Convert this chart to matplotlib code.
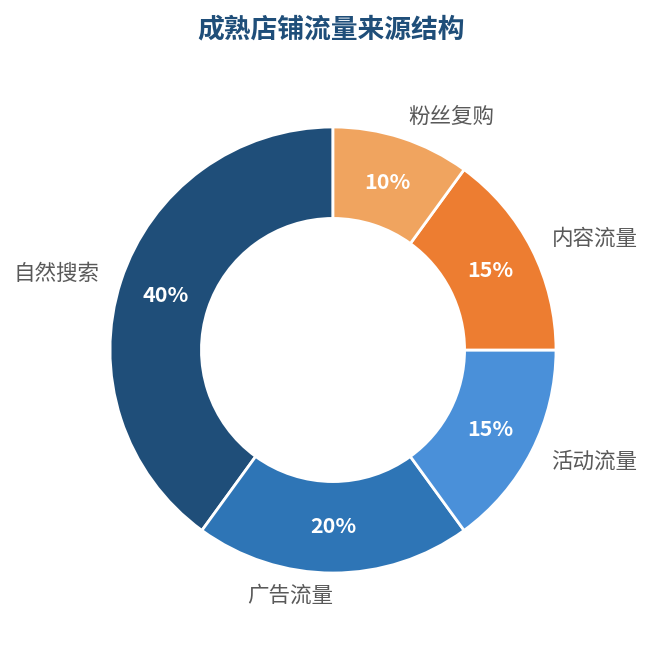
import matplotlib.pyplot as plt

plt.rcParams['font.family'] = ['Noto Sans CJK SC', 'DejaVu Sans']

labels = ['自然搜索', '广告流量', '活动流量', '内容流量', '粉丝复购']
shares = [40, 20, 15, 15, 10]
colors = ['#1F4E79', '#2E75B6', '#4A90D9', '#ED7D31', '#F0A45F']

W, H = 651, 645
fig = plt.figure(figsize=(W / 100, H / 100), dpi=100)

# pie radius ~223 px, axes spans 2.5 radii, centre at (333, 350) from top
r_px = 223
side = 2.5 * r_px
cx, cy = 333, H - 350
ax = fig.add_axes([(cx - side / 2) / W, (cy - side / 2) / H, side / W, side / H])

wedges, texts, autotexts = ax.pie(
    shares, labels=labels, colors=colors, startangle=90,
    autopct='%d%%', pctdistance=0.79, labeldistance=1.1,
    wedgeprops=dict(width=0.41, edgecolor='white', linewidth=2),
    textprops=dict(fontsize=15.5, color='#595959'))

# bottom label sits to the left of the centre line
texts[1].set_ha('right')

for t in autotexts:
    t.set_color('white')
    t.set_fontsize(15.5)
    t.set_fontweight('bold')

fig.text(331 / W, 1 - 29 / H, '成熟店铺流量来源结构', ha='center', va='center',
         fontsize=19.3, fontweight='bold', color='#1F4E79')

fig.savefig('out.png', dpi=100)
